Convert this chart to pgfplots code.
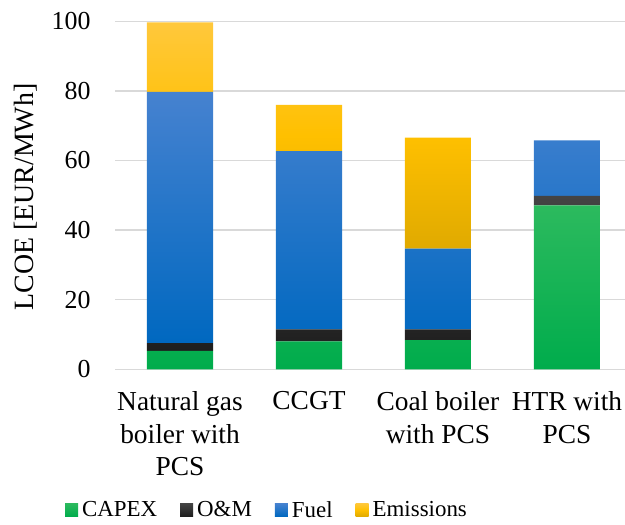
\documentclass[border=0pt]{standalone}
\usepackage{fontspec}
\setmainfont{Liberation Serif}
\usepackage{pgfplots}
\pgfplotsset{compat=1.18}
\definecolor{gridgray}{HTML}{D9D9D9}
\definecolor{gtop}{HTML}{2CBA5E}
\definecolor{gbot}{HTML}{00AC4C}
\definecolor{ktop}{HTML}{444444}
\definecolor{kbot}{HTML}{1E1E1E}
\definecolor{btop}{HTML}{4682D0}
\definecolor{bbot}{HTML}{0068C0}
\definecolor{ytop}{HTML}{FFC83C}
\definecolor{ymid}{HTML}{FFC000}
\definecolor{ybot}{HTML}{E0AA00}
\begin{document}
\begin{tikzpicture}
\begin{axis}[
  at={(115bp,155.7bp)}, anchor=south west,
  width=510bp, height=348bp, scale only axis,
  ybar stacked, bar width=0.512,
  xmin=-0.504, xmax=3.45, ymin=0, ymax=100,
  xtick={0,1,2,3},
  xticklabels={Natural gas\\boiler with\\PCS, CCGT, Coal boiler\\with PCS, HTR with\\PCS},
  ytick={0,20,40,60,80,100},
  major tick length=0,
  ymajorgrids, grid style={gridgray, line width=1.5bp},
  axis line style={draw=none},
  /pgf/number format/assume math mode=true,
  yticklabel style={font=\fontsize{26}{30}\selectfont, anchor=east, xshift=-21bp},
  xticklabel style={font=\fontsize{27.5}{32.5}\selectfont, align=center, anchor=north, yshift=-19bp},
  ylabel={LCOE [EUR/MWh]},
  ylabel style={font=\fontsize{28}{32}\selectfont, at={(axis description cs:-0.176,0.495)}, anchor=center, rotate=0},
  legend columns=4,
  legend style={at={(axis description cs:0.296,-0.404)}, anchor=center, draw=none, fill=none,
    font=\fontsize{23}{28}\selectfont,
    nodes={inner xsep=0bp},
    /tikz/column sep=0bp},
  legend image code/.code={\path[#1, draw=none] (0bp,-6.5bp) rectangle (13bp,6.5bp);},
]
\addplot[top color=gtop, bottom color=gbot, draw=none] coordinates {(0,5.3) (1,8.0) (2,8.4) (3,47.1)};
\addplot[top color=ktop, bottom color=kbot, draw=none] coordinates {(0,2.2) (1,3.5) (2,3.1) (3,2.7)};
\addplot[top color=btop, bottom color=bbot, draw=none] coordinates {(0,72.2) (1,51.2) (2,23.2) (3,16.0)};
\addplot[top color=ytop, bottom color=ybot, middle color=ymid, draw=none] coordinates {(0,20.0) (1,13.3) (2,31.9) (3,0)};
\legend{\kern4bp CAPEX\kern23bp, \kern4bp O\&M\kern23bp, \kern4bp Fuel\kern23bp, \kern4bp Emissions}
\end{axis}
\pgfresetboundingbox
\useasboundingbox (0,0) rectangle (625bp,525bp);
\end{tikzpicture}
\end{document}
